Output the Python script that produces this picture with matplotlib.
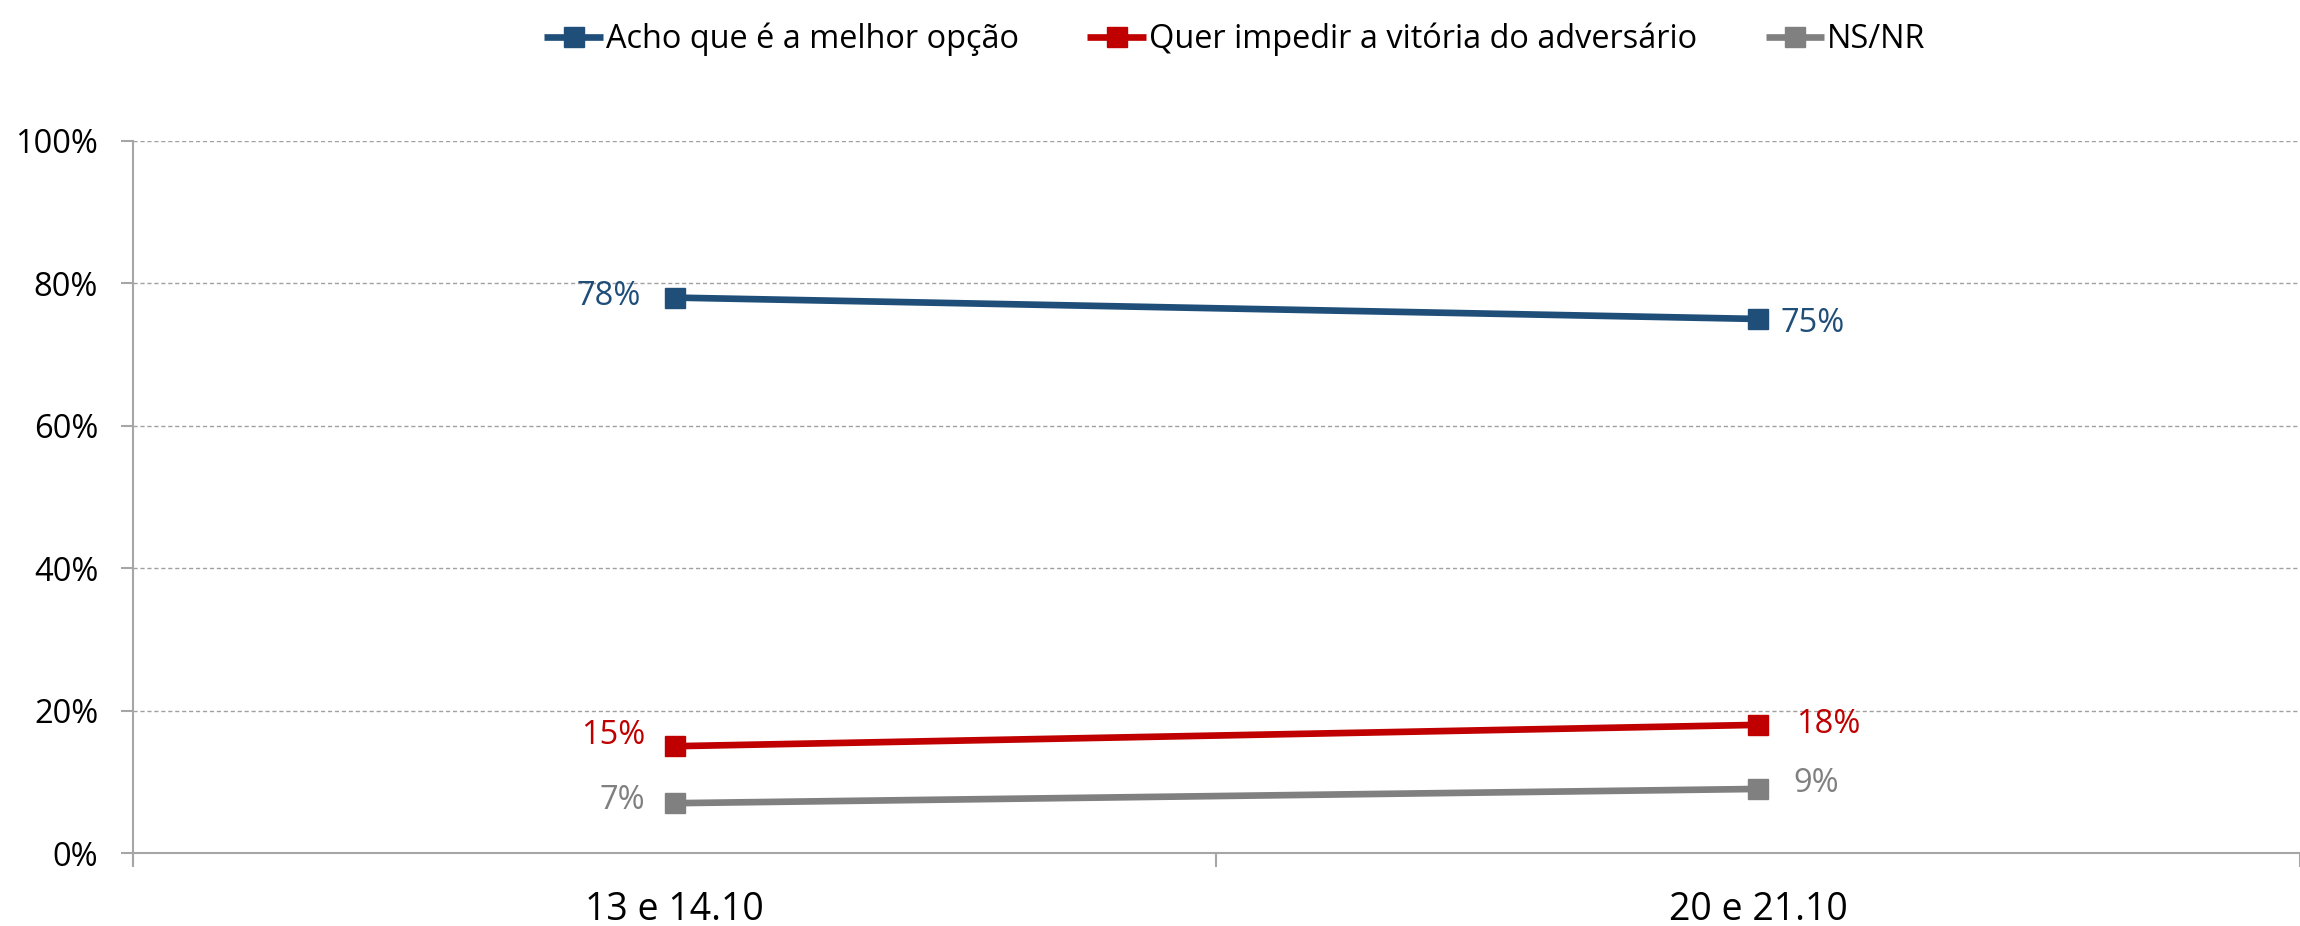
import matplotlib.pyplot as plt
from matplotlib.ticker import PercentFormatter

plt.rcParams['font.family'] = ['Open Sans', 'DejaVu Sans']

categories = ['13 e 14.10', '20 e 21.10']
series_names = ['Acho que é a melhor opção', 'Quer impedir a vitória do adversário', 'NS/NR']
melhor = [78, 75]
impedir = [15, 18]
nsnr = [7, 9]
colors = ['#1F4E79', '#C00000', '#808080']
# label offsets (points) for first / last point of each series
left_off = [(-24, 1), (-21, 8), (-21, 2)]
right_off = [(16, -3), (27, 0), (25, 4)]

fig = plt.figure(figsize=(23, 9.26), dpi=100)
ax = fig.add_axes([0.0578, 0.0788, 0.9422, 0.769])

x = list(range(len(categories)))
for i, (vals, name, c) in enumerate(zip([melhor, impedir, nsnr], series_names, colors)):
    ax.plot(x, vals, color=c, lw=4.8, marker='s', ms=14, label=name, solid_capstyle='butt')
    ax.annotate(f'{vals[0]}%', (x[0], vals[0]), xytext=left_off[i], textcoords='offset points',
                ha='right', va='center', color=c, fontsize=23.5)
    ax.annotate(f'{vals[1]}%', (x[1], vals[1]), xytext=right_off[i], textcoords='offset points',
                ha='left', va='center', color=c, fontsize=23.5)

ax.set_xlim(-0.5, 1.5)
ax.set_ylim(0, 100)
ax.set_yticks(range(0, 101, 20))
ax.yaxis.set_major_formatter(PercentFormatter(decimals=0))
ax.set_xticks(x)
ax.set_xticklabels(categories)
ax.set_xticks([-0.5, 0.5, 1.5], minor=True)
ax.tick_params(axis='x', which='major', length=0, pad=27, labelsize=27)
ax.tick_params(axis='x', which='minor', length=10, width=1.5, color='#A6A6A6')
ax.tick_params(axis='y', length=9, width=1.5, color='#A6A6A6', labelsize=23.5, pad=16)

ax.grid(axis='y', color='#A0A0A0', ls=(0, (3, 2)), lw=1)
ax.set_axisbelow(True)
for s in ['top', 'right']:
    ax.spines[s].set_visible(False)
for s in ['left', 'bottom']:
    ax.spines[s].set_color('#A6A6A6')
    ax.spines[s].set_linewidth(1.5)
ax.spines['left'].set_bounds(-1.5, 100)
ax.spines['left'].set_clip_on(False)

fig.legend(loc='upper center', bbox_to_anchor=(0.537, 1.0), ncol=3, frameon=False,
           fontsize=23.4, handlelength=1.8, handletextpad=0.1, columnspacing=2.1,
           borderaxespad=0.3)

fig.savefig('out.png', dpi=100)
